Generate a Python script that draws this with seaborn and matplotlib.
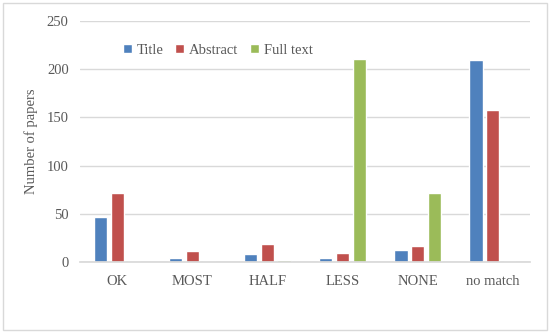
import matplotlib
matplotlib.use("Agg")
import matplotlib.pyplot as plt
import seaborn as sns
import pandas as pd
from matplotlib.patches import Rectangle

categories = ["OK", "MOST", "HALF", "LESS", "NONE", "no match"]
series_names = ["Title", "Abstract", "Full text"]
title_vals = [47, 4, 8, 4, 13, 210]
abstract_vals = [72, 11, 19, 9, 17, 158]
fulltext_vals = [0, 0, 2, 211, 72, 0]
colors = ["#4F81BD", "#C0504D", "#9BBB59"]
yticks = [0, 50, 100, 150, 200, 250]

rows = []
for name, vals in zip(series_names, [title_vals, abstract_vals, fulltext_vals]):
    for c, v in zip(categories, vals):
        rows.append({"category": c, "series": name, "value": v})
df = pd.DataFrame(rows)

sns.set_theme(style="white")
plt.rcParams["font.family"] = ["Liberation Serif", "DejaVu Serif"]
text_color = "#595959"
fs = 10.5

fig = plt.figure(figsize=(5.5, 3.33), dpi=100)
ax = fig.add_axes([0.145, 0.213, 0.819, 0.724])

sns.barplot(data=df, x="category", y="value", hue="series", order=categories,
            hue_order=series_names, palette=colors, width=0.667, gap=0.2,
            saturation=1, ax=ax, legend=True)

ax.set_ylim(0, 250)
ax.set_yticks(yticks)
ax.set_yticklabels([str(t) for t in yticks], fontsize=fs, color=text_color)
ax.set_xlim(-0.5, len(categories) - 0.5)
ax.tick_params(axis="x", labelsize=fs, colors=text_color, length=0, pad=9)
ax.tick_params(axis="y", length=0, pad=8)
ax.yaxis.grid(True, color="#D9D9D9", linewidth=1)
ax.set_axisbelow(True)
for s in ["top", "right", "left"]:
    ax.spines[s].set_visible(False)
ax.spines["bottom"].set_color("#D9D9D9")
ax.set_xlabel("")
ax.set_ylabel("Number of papers", fontsize=fs, color=text_color, labelpad=6)

leg = ax.legend(loc="upper left", bbox_to_anchor=(0.082, 0.93), ncol=3, frameon=False,
                fontsize=fs, handlelength=0.65, handleheight=0.65, handletextpad=0.3,
                columnspacing=0.8, borderaxespad=0)
for t in leg.get_texts():
    t.set_color(text_color)

fig.patches.append(Rectangle((0.006, 0.01), 0.988, 0.98, transform=fig.transFigure,
                             fill=False, edgecolor="#D9D9D9", linewidth=1))

fig.savefig("out.png", dpi=100)
